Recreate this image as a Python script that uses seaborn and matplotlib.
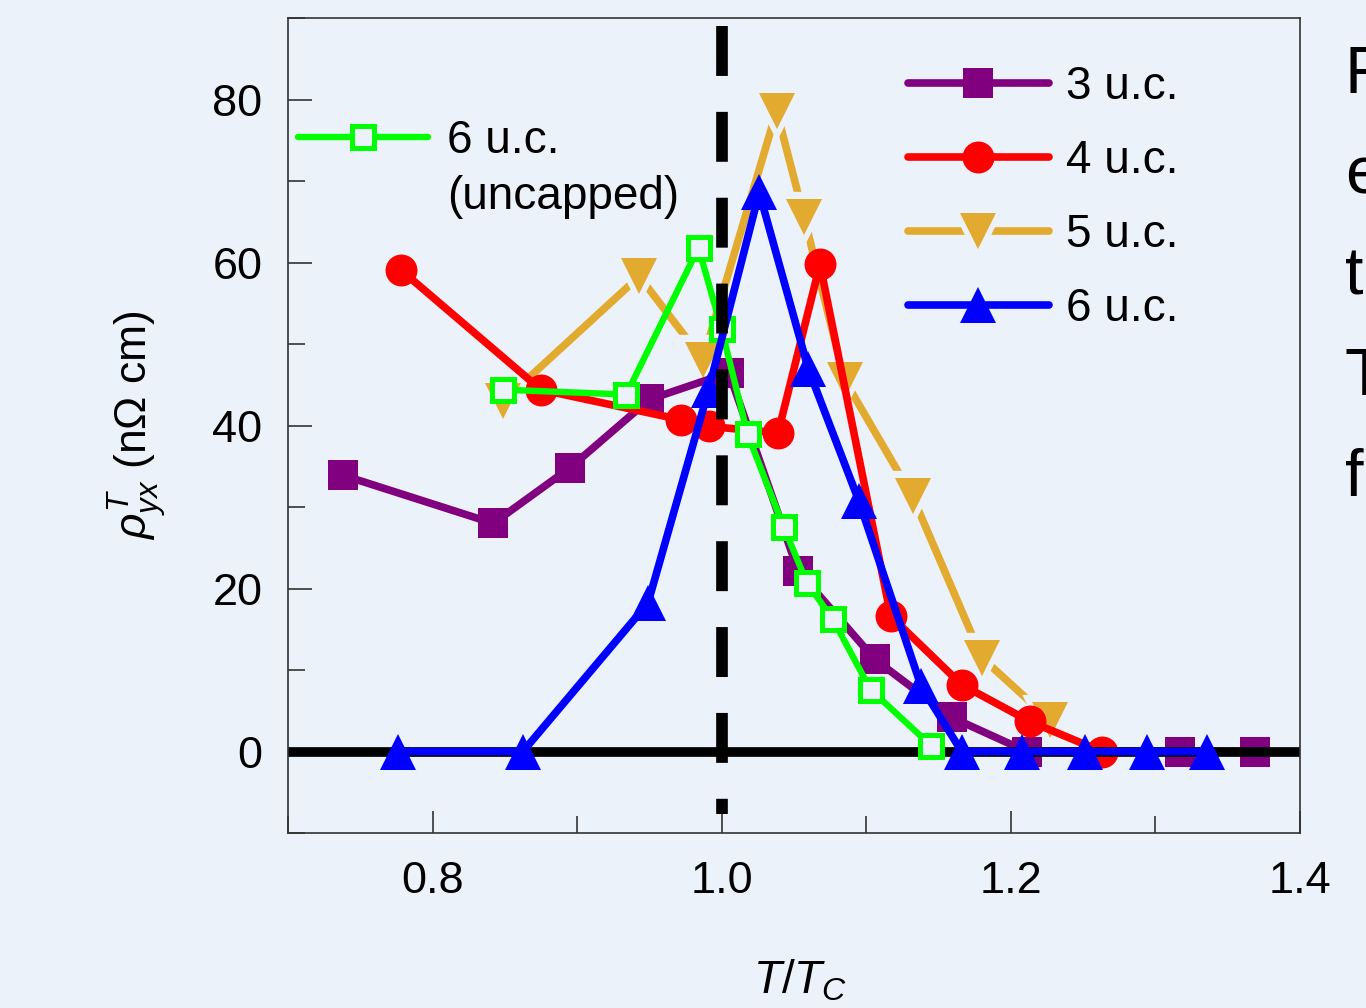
import matplotlib
matplotlib.use("Agg")
import matplotlib.pyplot as plt
from matplotlib.ticker import MultipleLocator, FixedLocator
from matplotlib.lines import Line2D
from matplotlib.legend_handler import HandlerTuple
import seaborn as sns
import pandas as pd

# ---------------- data ----------------
x_3uc = [0.738, 0.842, 0.895, 0.950, 1.005, 1.053, 1.106, 1.159, 1.211, 1.317, 1.369]
y_3uc = [33.9, 28.0, 34.8, 43.2, 46.5, 22.1, 11.3, 4.2, 0.0, 0.0, 0.0]

x_4uc = [0.778, 0.875, 0.972, 0.991, 1.039, 1.068, 1.117, 1.166, 1.213, 1.263]
y_4uc = [59.1, 44.4, 40.7, 39.9, 39.1, 59.8, 16.6, 8.2, 3.7, 0.0]

x_5uc = [0.849, 0.943, 0.987, 1.038, 1.057, 1.085, 1.132, 1.180, 1.227]
y_5uc = [43.0, 58.3, 48.1, 78.6, 65.6, 45.6, 31.3, 11.5, 3.9]

x_6uc = [0.776, 0.8625, 0.949, 0.991, 1.026, 1.060, 1.095, 1.138, 1.166, 1.208, 1.251, 1.294, 1.336]
y_6uc = [0.0, 0.0, 18.2, 44.4, 68.6, 46.9, 30.7, 8.0, 0.0, 0.0, 0.0, 0.0, 0.0]

x_6unc = [0.849, 0.934, 0.984, 1.000, 1.018, 1.043, 1.059, 1.077, 1.103, 1.145]
y_6unc = [44.4, 43.8, 61.8, 51.8, 38.9, 27.5, 20.7, 16.2, 7.6, 0.7]

labels = ["3 u.c.", "4 u.c.", "5 u.c.", "6 u.c."]
label_unc = "6 u.c."
label_unc2 = "(uncapped)"
x_ticks = [0.8, 1.0, 1.2, 1.4]
y_ticks = [0, 20, 40, 60, 80]
side_letters = ["F", "e", "t", "T", "f"]

# ---------------- style ----------------
BG = "#ECF2FA"
sns.set_theme(style="ticks")
plt.rcParams["font.family"] = ["Liberation Sans", "DejaVu Sans"]
plt.rcParams["mathtext.fontset"] = "custom"
plt.rcParams["mathtext.rm"] = "Liberation Sans"
plt.rcParams["mathtext.it"] = "Liberation Sans:italic"
plt.rcParams["mathtext.bf"] = "Liberation Sans:bold"
plt.rcParams["text.color"] = "black"
plt.rcParams["axes.labelcolor"] = "black"
plt.rcParams["xtick.color"] = "#222222"
plt.rcParams["ytick.color"] = "#222222"

fig = plt.figure(figsize=(13.66, 10.08), dpi=100, facecolor=BG)
ax = fig.add_axes([0.2108, 0.1736, 0.74085, 0.8085])
ax.set_facecolor(BG)

PURPLE = "#800080"
RED = "#FF0000"
GOLD = "#E3AA30"
BLUE = "#0000FF"
GREEN = "#00FF00"

LW = 5.5
MS_TRI = 26

def df(x, y):
    return pd.DataFrame({"x": x, "y": y})

# 5 u.c.: line broken around the markers (background-coloured marker rim masks the line)
sns.lineplot(data=df(x_5uc, y_5uc), x="x", y="y", ax=ax, color=GOLD, lw=LW,
             marker="v", markersize=MS_TRI + 4, markeredgewidth=6,
             markerfacecolor=GOLD, markeredgecolor=BG, estimator=None,
             sort=False, zorder=1.9, legend=False)
sns.lineplot(data=df(x_5uc, y_5uc), x="x", y="y", ax=ax, color=GOLD, lw=0,
             marker="v", markersize=MS_TRI, markeredgewidth=0, estimator=None,
             sort=False, zorder=1.95, legend=False)
sns.lineplot(data=df(x_3uc, y_3uc), x="x", y="y", ax=ax, color=PURPLE, lw=LW,
             marker="s", markersize=21, markeredgewidth=0, estimator=None,
             sort=False, zorder=2.1, legend=False)
sns.lineplot(data=df(x_4uc, y_4uc), x="x", y="y", ax=ax, color=RED, lw=LW,
             marker="o", markersize=23, markeredgewidth=0, estimator=None,
             sort=False, zorder=2.2, legend=False)

# zero line
ax.axhline(0, color="black", lw=7, zorder=2.5)

sns.lineplot(data=df(x_6unc, y_6unc), x="x", y="y", ax=ax, color=GREEN, lw=4.6,
             marker="s", markersize=16.5, markeredgewidth=3.6,
             markerfacecolor=BG, markeredgecolor=GREEN, estimator=None,
             sort=False, zorder=2.6, legend=False)
sns.lineplot(data=df(x_6uc, y_6uc), x="x", y="y", ax=ax, color=BLUE, lw=LW,
             marker="^", markersize=MS_TRI, markeredgewidth=0, estimator=None,
             sort=False, zorder=2.7, legend=False)

# vertical dashed line at T/Tc = 1
ax.plot([1.0, 1.0], [89.0, -7.7], color="black", lw=8.4,
        dashes=(4.28, 3.08), solid_capstyle="butt", dash_capstyle="butt", zorder=3)

# ---------------- axes ----------------
ax.set_xlim(0.7, 1.4)
ax.set_ylim(-10, 90)
ax.xaxis.set_major_locator(FixedLocator(x_ticks))
ax.yaxis.set_major_locator(FixedLocator(y_ticks))
ax.xaxis.set_minor_locator(MultipleLocator(0.1))
ax.yaxis.set_minor_locator(MultipleLocator(10))
ax.set_xticklabels([f"{v:.1f}" for v in x_ticks])
ax.set_yticklabels([str(v) for v in y_ticks])
ax.tick_params(which="both", direction="in", top=False, right=False,
               colors="#222222", labelcolor="black", labelsize=32.5, width=1.1)
ax.tick_params(axis="y", which="major", length=17, pad=18.5)
ax.tick_params(axis="y", which="minor", length=12)
ax.tick_params(axis="x", which="major", length=16, pad=20)
ax.tick_params(axis="x", which="minor", length=12)
for s in ax.spines.values():
    s.set_color("#333333")
    s.set_linewidth(1.2)
    s.set_visible(True)
ax.grid(False)

ax.set_xlabel(r"$T/T_C$", fontsize=33, color="black")
ax.set_ylabel(r"$\rho_{yx}^{T}$ (nΩ cm)", fontsize=32, color="black")
ax.xaxis.set_label_coords(0.506, -0.153)
ax.yaxis.set_label_coords(-0.118, 0.50)

# ---------------- legends ----------------
gold_mask = Line2D([], [], color=GOLD, lw=LW, marker="v", markersize=MS_TRI + 4,
                   markeredgewidth=6, markerfacecolor=GOLD, markeredgecolor=BG)
gold_mark = Line2D([], [], color=GOLD, lw=0, marker="v", markersize=MS_TRI,
                   markeredgewidth=0)
handles = [
    Line2D([], [], color=PURPLE, lw=LW, marker="s", markersize=21, markeredgewidth=0),
    Line2D([], [], color=RED, lw=LW, marker="o", markersize=23, markeredgewidth=0),
    (gold_mask, gold_mark),
    Line2D([], [], color=BLUE, lw=LW, marker="^", markersize=MS_TRI, markeredgewidth=0),
]
leg1 = ax.legend(handles, labels, loc="upper left", bbox_to_anchor=(0.613, 0.942),
                 frameon=False, fontsize=33, handlelength=3.06, handletextpad=0.39,
                 labelspacing=0.65, borderpad=0, borderaxespad=0, numpoints=1,
                 handler_map={tuple: HandlerTuple(ndivide=1)})
for t in leg1.get_texts():
    t.set_color("black")
ax.add_artist(leg1)
h_unc = Line2D([], [], color=GREEN, lw=4.6, marker="s", markersize=16.5,
               markeredgewidth=3.6, markerfacecolor=BG, markeredgecolor=GREEN)
leg2 = ax.legend([h_unc], [label_unc], loc="upper left", bbox_to_anchor=(0.0099, 0.876),
                 frameon=False, fontsize=33, handlelength=2.84, handletextpad=0.41,
                 borderpad=0, borderaxespad=0, numpoints=1)
for t in leg2.get_texts():
    t.set_color("black")
ax.text(0.157, 0.780, label_unc2, transform=ax.transAxes, fontsize=33,
        ha="left", va="center", color="black")

# ---------------- cut-off slide text on the right ----------------
baselines = [93, 194, 294, 395, 496]
for ch, yb in zip(side_letters, baselines):
    fig.text(1345 / 1366, 1 - yb / 1008, ch, fontsize=48, ha="left",
             va="baseline", color="black")

fig.savefig("out.png", dpi=100, facecolor=BG)
